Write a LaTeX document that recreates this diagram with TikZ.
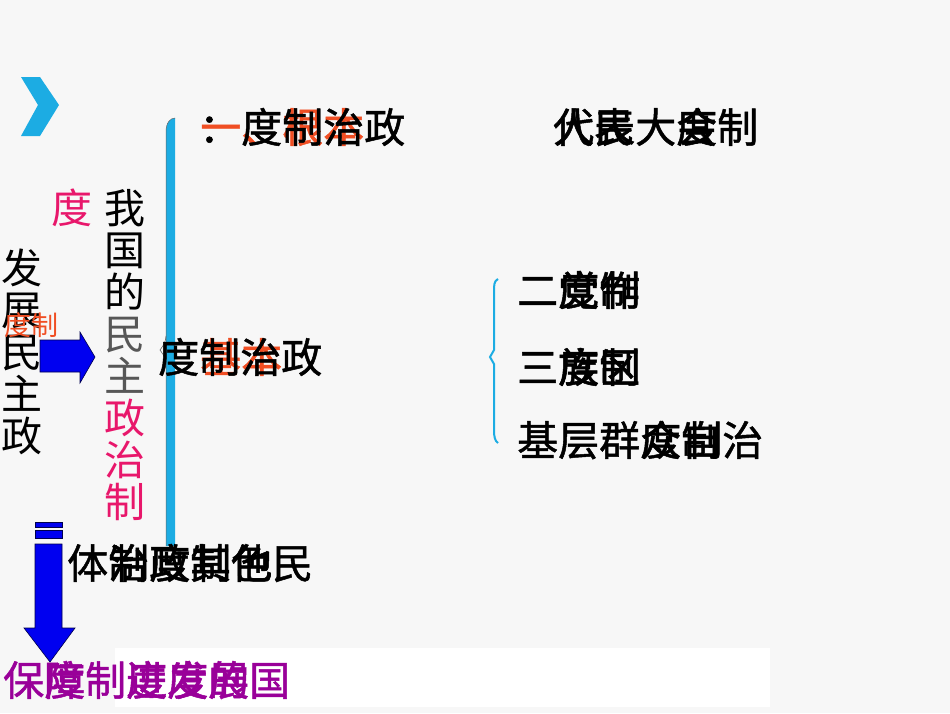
\documentclass[tikz,border=0pt]{standalone}
\usepackage{fontspec}
\setmainfont{Noto Sans CJK SC}[AutoFakeBold=1.2]
\definecolor{bgc}{HTML}{F7F7F7}
\definecolor{chev}{HTML}{1CACE3}
\definecolor{redor}{HTML}{F04E23}
\definecolor{pinkc}{HTML}{E8176B}
\definecolor{grayc}{HTML}{575757}
\definecolor{purp}{HTML}{990099}
\definecolor{arrb}{HTML}{0000F0}
\begin{document}
\begin{tikzpicture}[x=1pt,y=-1pt,
  txt/.style={inner sep=0pt, anchor=base west, font=\fontsize{41}{42}\selectfont\bfseries},
  vtxt/.style={inner sep=0pt, anchor=base, font=\fontsize{41}{42}\selectfont},
  smalltxt/.style={inner sep=0pt, anchor=base west, font=\fontsize{27}{28}\selectfont},
  bluearrow/.style={fill=arrb, draw=black!70!blue, line width=0.6pt}]
\useasboundingbox (0,0) rectangle (950,713);
\fill[bgc] (0,0) rectangle (950,713);
\fill[white] (115,648) rectangle (770,707);
% chevron
\fill[chev] (21,77) -- (40,77) -- (59,105) -- (40,136) -- (21,136) -- (38,105) -- cycle;
% big brace
\fill[chev] (166,132) .. controls (166,123) and (170,118) .. (175,118) -- (175,546) -- (166,546) -- cycle;
\draw[black!60, line width=0.5pt] (166,546) -- (166,132) .. controls (166,123) and (170,118) .. (175,118);
\draw[black!60, line width=0.6pt] (166,336) .. controls (165,343) .. (160,350) .. controls (165,357) .. (166,364);
% small brace
\draw[chev, line width=2pt] (498,279) .. controls (494,281) and (494,285) .. (494,292) -- (494,350) -- (490,357) -- (494,364) -- (494,430) .. controls (494,437) and (495,441) .. (498,443);
% right arrow
\fill[bluearrow] (40,340) -- (80,340) -- (80,332) -- (95,357) -- (80,383) -- (80,372) -- (40,372) -- cycle;
% down arrow
\fill[bluearrow] (35,522) rectangle (62,527);
\fill[bluearrow] (35,530) rectangle (62,538);
\fill[bluearrow] (35,544) -- (62,544) -- (62,628) -- (75,628) -- (50,662) -- (24,628) -- (35,628) -- cycle;
% left vertical text
\foreach \c [count=\i from 0] in {发,展,民,主,政}
  \node[vtxt] (left\i) at (22,{268+42*\i+15.6}) {\c};
\node[smalltxt, text=redor] (smallred) at (4,335) {度制};
\node[vtxt, text=pinkc] (du) at (72,{208+15.6}) {度};
% middle vertical text
\foreach \c/\col [count=\i from 0] in {我/black,国/black,的/black,民/grayc,主/grayc,政/pinkc,治/pinkc,制/pinkc}
  \node[vtxt, text=\col] (mid\i) at (125,{208+42*\i+15.6}) {\c};
% top row
\node[txt, text=redor] (t1r) at (200,142.6) {一、根本};
\node[txt] (t1c) at (199,142.6) {：};
\node[txt] (t1) at (241,142.6) {度制治政};
% middle row
\node[txt, text=redor] (t2r) at (200,372.6) {基本};
\node[txt] (t2) at (158,372.6) {度制治政};
% right top
\node[txt] (r1b) at (553,142.6) {人民\hspace{41pt}会};
\node[txt] (r1) at (553,142.6) {代表大度制};
% right group
\node[txt] (r2b) at (517,305.6) {\hspace{41pt}党作};
\node[txt] (r2) at (517,305.6) {二度制};
\node[txt] (r3b) at (517,382.6) {\hspace{41pt}族区};
\node[txt] (r3) at (517,382.6) {三度制};
\node[txt] (r4b) at (517,455.6) {\hspace{123pt}众自};
\node[txt] (r4) at (517,455.6) {基层群度制治};
% bottom
\node[txt] (b1b) at (67,578.6) {\hspace{41pt}治政其他};
\node[txt] (b1) at (67,578.6) {体制度制色民};
\node[txt, text=purp] (b2b) at (3,695.6) {\hspace{41pt}度\hspace{41pt}进度的};
\node[txt, text=purp] (b2) at (3,695.6) {保障制度发展国};
\end{tikzpicture}
\end{document}
